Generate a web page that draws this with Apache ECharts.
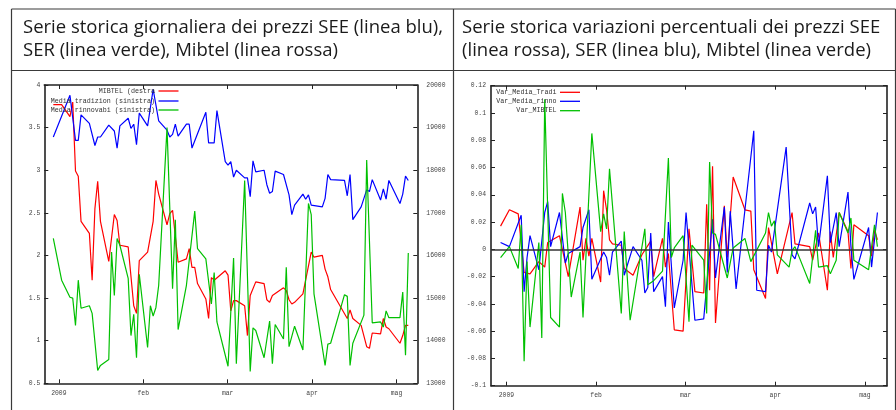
<!DOCTYPE html>
<html><head><meta charset="utf-8">
<script src="https://cdn.jsdelivr.net/npm/echarts@6/dist/echarts.min.js"></script>
<style>html,body{margin:0;padding:0;background:#fff;}#c{width:896px;height:410px;}</style>
</head><body><div id="c"></div>
<script>
// ---------- texts ----------
const titleLeft = ['Serie storica giornaliera dei prezzi SEE (linea blu),', 'SER (linea verde), Mibtel (linea rossa)'];
const titleRight = ['Serie storica variazioni percentuali dei prezzi SEE', '(linea rossa), SER (linea blu), Mibtel (linea verde)'];
const xTickLabels = ['2009', 'feb', 'mar', 'apr', 'mag'];
const leftNames = ['MIBTEL (destra', 'Media tradizion (sinistra)', 'Media rinnovabi (sinistra)'];
const rightNames = ['Var_Media_Tradi', 'Var_Media_rinno', 'Var_MIBTEL'];

// ---------- left chart data ----------
const mibtel = [['2008-12-30',19540],['2009-01-02',19540],['2009-01-05',19260],['2009-01-06',19600],['2009-01-07',17980],['2009-01-08',17860],['2009-01-09',16800],['2009-01-12',16520],['2009-01-13',15420],['2009-01-14',17100],['2009-01-15',17740],['2009-01-16',16800],['2009-01-19',15860],['2009-01-21',16960],['2009-01-22',16820],['2009-01-23',16240],['2009-01-26',16200],['2009-01-28',14820],['2009-01-29',14640],['2009-01-30',15880],['2009-02-02',16080],['2009-02-04',16800],['2009-02-05',17760],['2009-02-06',17440],['2009-02-09',16720],['2009-02-10',16980],['2009-02-11',17060],['2009-02-13',15840],['2009-02-16',15920],['2009-02-17',16160],['2009-02-18',15720],['2009-02-19',15720],['2009-02-20',15340],['2009-02-23',14980],['2009-02-24',14520],['2009-02-25',15480],['2009-02-26',15420],['2009-03-02',15640],['2009-03-03',15540],['2009-03-04',14700],['2009-03-05',14940],['2009-03-06',14940],['2009-03-09',14820],['2009-03-10',14120],['2009-03-11',15060],['2009-03-13',15380],['2009-03-16',15340],['2009-03-17',14960],['2009-03-18',14900],['2009-03-19',15060],['2009-03-23',15240],['2009-03-24',15180],['2009-03-25',14960],['2009-03-26',14860],['2009-03-27',14900],['2009-03-30',15100],['2009-04-02',16080],['2009-04-03',15960],['2009-04-06',16000],['2009-04-07',15680],['2009-04-08',15500],['2009-04-09',15200],['2009-04-15',14520],['2009-04-16',14720],['2009-04-17',14520],['2009-04-20',14360],['2009-04-22',13860],['2009-04-23',13820],['2009-04-24',14180],['2009-04-27',14160],['2009-04-28',14520],['2009-04-29',14320],['2009-04-30',14280],['2009-05-04',13940],['2009-05-05',14120],['2009-05-06',14360],['2009-05-07',14360]];

const mediaTradizion = [['2008-12-30',3.39],['2009-01-05',3.88],['2009-01-07',3.35],['2009-01-08',3.35],['2009-01-09',3.65],['2009-01-12',3.55],['2009-01-14',3.29],['2009-01-15',3.39],['2009-01-16',3.39],['2009-01-19',3.53],['2009-01-21',3.46],['2009-01-22',3.26],['2009-01-23',3.52],['2009-01-26',3.61],['2009-01-27',3.49],['2009-01-28',3.54],['2009-01-29',3.30],['2009-01-30',3.67],['2009-02-02',3.52],['2009-02-04',3.95],['2009-02-06',3.58],['2009-02-09',3.47],['2009-02-10',3.39],['2009-02-11',3.42],['2009-02-12',3.54],['2009-02-13',3.40],['2009-02-16',3.54],['2009-02-17',3.54],['2009-02-18',3.26],['2009-02-23',3.68],['2009-02-24',3.32],['2009-02-26',3.32],['2009-02-27',3.70],['2009-03-02',3.10],['2009-03-03',3.06],['2009-03-04',3.10],['2009-03-05',2.92],['2009-03-06',3.00],['2009-03-09',2.91],['2009-03-10',2.91],['2009-03-11',2.69],['2009-03-12',3.11],['2009-03-13',2.98],['2009-03-16',3.00],['2009-03-17',2.83],['2009-03-18',2.73],['2009-03-19',2.75],['2009-03-20',2.99],['2009-03-23',2.95],['2009-03-25',2.71],['2009-03-26',2.48],['2009-03-27',2.59],['2009-03-30',2.72],['2009-03-31',2.66],['2009-04-01',2.71],['2009-04-02',2.59],['2009-04-06',2.57],['2009-04-07',2.67],['2009-04-08',2.95],['2009-04-09',2.89],['2009-04-14',2.88],['2009-04-15',2.70],['2009-04-16',2.95],['2009-04-17',2.42],['2009-04-20',2.57],['2009-04-22',2.77],['2009-04-23',2.75],['2009-04-24',2.89],['2009-04-27',2.65],['2009-04-28',2.78],['2009-04-29',2.66],['2009-04-30',2.88],['2009-05-04',2.61],['2009-05-05',2.72],['2009-05-06',2.93],['2009-05-07',2.88]];

const mediaRinnovabi = [['2008-12-30',2.20],['2009-01-02',1.71],['2009-01-05',1.51],['2009-01-06',1.50],['2009-01-07',1.18],['2009-01-08',1.71],['2009-01-09',1.38],['2009-01-12',1.41],['2009-01-13',1.32],['2009-01-15',0.65],['2009-01-16',0.71],['2009-01-19',0.78],['2009-01-20',2.04],['2009-01-21',1.53],['2009-01-22',2.20],['2009-01-23',2.12],['2009-01-26',1.73],['2009-01-27',1.06],['2009-01-28',1.31],['2009-01-29',0.80],['2009-01-30',1.78],['2009-02-02',0.92],['2009-02-03',1.41],['2009-02-04',1.29],['2009-02-05',1.39],['2009-02-06',1.65],['2009-02-09',3.50],['2009-02-11',1.61],['2009-02-12',2.42],['2009-02-13',1.13],['2009-02-16',1.65],['2009-02-19',2.52],['2009-02-20',2.08],['2009-02-23',1.96],['2009-02-25',1.43],['2009-02-26',1.80],['2009-02-27',1.22],['2009-03-03',0.70],['2009-03-05',1.97],['2009-03-06',0.73],['2009-03-09',2.88],['2009-03-11',0.64],['2009-03-12',1.15],['2009-03-13',1.12],['2009-03-16',0.80],['2009-03-18',1.23],['2009-03-19',0.73],['2009-03-20',1.19],['2009-03-23',1.02],['2009-03-24',1.86],['2009-03-25',0.93],['2009-03-27',1.17],['2009-03-30',0.89],['2009-04-01',2.61],['2009-04-02',2.48],['2009-04-03',1.55],['2009-04-07',0.71],['2009-04-08',0.96],['2009-04-09',0.97],['2009-04-14',1.54],['2009-04-15',1.52],['2009-04-16',0.71],['2009-04-17',0.97],['2009-04-21',1.30],['2009-04-22',3.12],['2009-04-24',1.21],['2009-04-27',1.22],['2009-04-28',1.16],['2009-04-29',1.35],['2009-04-30',1.27],['2009-05-04',1.27],['2009-05-05',1.57],['2009-05-06',0.83],['2009-05-07',2.03]];

// ---------- right chart data ----------
const varMediaTradi = [['2008-12-30',0.017],['2009-01-02',0.029],['2009-01-05',0.026],['2009-01-07',-0.017],['2009-01-09',-0.018],['2009-01-12',-0.009],['2009-01-14',-0.013],['2009-01-15',0.005],['2009-01-19',0.010],['2009-01-22',-0.020],['2009-01-26',0.031],['2009-01-27',-0.008],['2009-01-28',0.008],['2009-01-29',-0.005],['2009-01-30',0.008],['2009-02-02',-0.024],['2009-02-03',0.043],['2009-02-04',0.029],['2009-02-05',0.007],['2009-02-06',0.004],['2009-02-09',0.003],['2009-02-10',-0.014],['2009-02-13',-0.019],['2009-02-16',-0.004],['2009-02-19',0.006],['2009-02-20',-0.020],['2009-02-23',0.008],['2009-02-24',-0.013],['2009-02-25',-0.003],['2009-02-27',-0.059],['2009-03-02',-0.060],['2009-03-04',0.015],['2009-03-06',-0.031],['2009-03-09',-0.032],['2009-03-10',0.033],['2009-03-11',-0.030],['2009-03-12',0.061],['2009-03-13',-0.054],['2009-03-16',0.032],['2009-03-17',-0.006],['2009-03-19',0.053],['2009-03-23',0.029],['2009-03-25',0.028],['2009-03-26',-0.015],['2009-03-30',-0.036],['2009-03-31',0.016],['2009-04-03',-0.018],['2009-04-08',0.027],['2009-04-09',0.004],['2009-04-14',0.002],['2009-04-15',-0.008],['2009-04-17',0.012],['2009-04-20',-0.030],['2009-04-21',0.013],['2009-04-22',-0.006],['2009-04-24',0.027],['2009-04-27',0.013],['2009-04-28',-0.014],['2009-04-29',0.018],['2009-05-04',0.010],['2009-05-05',-0.005],['2009-05-06',0.014],['2009-05-07',0.007]];

const varMediaRinno = [['2008-12-30',0.005],['2009-01-02',0.002],['2009-01-06',0.025],['2009-01-07',-0.031],['2009-01-08',-0.006],['2009-01-09',0.010],['2009-01-12',-0.015],['2009-01-14',0.027],['2009-01-15',0.035],['2009-01-16',0.002],['2009-01-19',0.027],['2009-01-21',-0.010],['2009-01-22',-0.003],['2009-01-26',0.002],['2009-01-27',0.016],['2009-01-29',0.029],['2009-01-30',-0.022],['2009-02-03',-0.002],['2009-02-04',-0.006],['2009-02-05',-0.019],['2009-02-06',-0.002],['2009-02-09',0.006],['2009-02-10',-0.019],['2009-02-13',0.002],['2009-02-16',-0.008],['2009-02-17',-0.032],['2009-02-18',-0.028],['2009-02-19',0.012],['2009-02-20',-0.031],['2009-02-23',-0.020],['2009-02-24',-0.042],['2009-02-25',0.020],['2009-02-27',-0.043],['2009-03-02',-0.008],['2009-03-03',0.027],['2009-03-06',-0.052],['2009-03-09',-0.051],['2009-03-12',0.022],['2009-03-13',-0.021],['2009-03-16',0.031],['2009-03-17',-0.017],['2009-03-18',0.028],['2009-03-20',-0.029],['2009-03-23',0.029],['2009-03-26',0.087],['2009-03-27',-0.030],['2009-03-30',-0.031],['2009-03-31',0.003],['2009-04-01',-0.002],['2009-04-06',0.075],['2009-04-08',-0.004],['2009-04-09',-0.007],['2009-04-14',0.034],['2009-04-15',0.026],['2009-04-16',0.031],['2009-04-17',0.002],['2009-04-20',0.054],['2009-04-21',0.005],['2009-04-23',0.027],['2009-04-24',0.002],['2009-04-27',0.042],['2009-04-28',0.002],['2009-04-29',-0.022],['2009-05-04',0.016],['2009-05-05',-0.013],['2009-05-07',0.027]];

const varMibtel = [['2008-12-30',-0.006],['2009-01-02',0.002],['2009-01-05',-0.014],['2009-01-06',0.018],['2009-01-07',-0.082],['2009-01-08',-0.009],['2009-01-09',-0.057],['2009-01-12',0.005],['2009-01-13',-0.065],['2009-01-14',0.110],['2009-01-16',-0.050],['2009-01-19',-0.057],['2009-01-20',0.041],['2009-01-21',0.027],['2009-01-23',-0.035],['2009-01-26',-0.002],['2009-01-27',-0.050],['2009-01-30',0.085],['2009-02-02',0.013],['2009-02-03',0.026],['2009-02-04',0.015],['2009-02-05',0.059],['2009-02-09',-0.047],['2009-02-10',0.013],['2009-02-12',-0.052],['2009-02-17',0.015],['2009-02-18',-0.026],['2009-02-20',-0.023],['2009-02-23',-0.016],['2009-02-25',0.067],['2009-02-26',-0.006],['2009-02-27',0.001],['2009-03-02',0.010],['2009-03-04',-0.053],['2009-03-05',0.003],['2009-03-09',-0.008],['2009-03-10',-0.047],['2009-03-11',0.064],['2009-03-12',0.012],['2009-03-13',0.011],['2009-03-17',-0.021],['2009-03-19',0.001],['2009-03-23',0.008],['2009-03-25',-0.009],['2009-03-30',0.012],['2009-03-31',0.027],['2009-04-01',0.017],['2009-04-02',0.021],['2009-04-03',-0.004],['2009-04-07',-0.013],['2009-04-08',-0.001],['2009-04-09',0.002],['2009-04-14',-0.025],['2009-04-16',0.014],['2009-04-17',-0.013],['2009-04-20',-0.012],['2009-04-21',-0.018],['2009-04-23',-0.008],['2009-04-24',0.027],['2009-04-27',0.012],['2009-04-28',0.023],['2009-04-29',-0.008],['2009-05-04',-0.015],['2009-05-06',0.018],['2009-05-07',0.002]];

// ---------- helpers ----------
const ORIGIN = Date.UTC(2009, 0, 1), DAY = 86400000, MONTH = 365.25 / 12;
function dayOf(s) { const p = s.split('-').map(Number); return (Date.UTC(p[0], p[1] - 1, p[2]) - ORIGIN) / DAY; }
function toXY(arr) { return arr.map(p => [dayOf(p[0]), p[1]]); }
const xTicks = xTickLabels.map((_, i) => i * MONTH);
const X_MIN = -5.25, X_MAX = 129.25;

const RED = '#ff0000', BLUE = '#0000ff', GREEN = '#00c000';
const FRAME = '#222';
const MONO = '"Liberation Mono", "DejaVu Sans Mono", monospace';
const TITLE_FONT = '"Open Sans", Lato, sans-serif';

function xAx(grid, pos, showLabel) {
  return {
    type: 'value', gridIndex: grid, position: pos, min: X_MIN, max: X_MAX,
    axisLine: { show: true, onZero: false, lineStyle: { color: FRAME, width: 1.6 } },
    axisTick: { show: true, inside: true, length: 4, customValues: xTicks, lineStyle: { color: FRAME, width: 1 } },
    axisLabel: { show: showLabel, customValues: xTicks, margin: 7, fontFamily: MONO, fontSize: 6.4, color: '#444',
      formatter: v => xTickLabels[Math.round(v / MONTH)] },
    splitLine: { show: false }
  };
}
function yAx(grid, pos, min, max, interval, showLabel, margin) {
  return {
    type: 'value', gridIndex: grid, position: pos, min: min, max: max, interval: interval,
    axisLine: { show: true, onZero: false, lineStyle: { color: FRAME, width: 1.6 } },
    axisTick: { show: true, inside: true, length: 4, lineStyle: { color: FRAME, width: 1 } },
    axisLabel: { show: showLabel, margin: margin, fontFamily: MONO, fontSize: 6.4, color: '#444',
      formatter: v => String(Math.round(v * 1000) / 1000) },
    splitLine: { show: false }
  };
}
function lineSeries(data, xi, yi, color, extra) {
  return Object.assign({
    type: 'line', xAxisIndex: xi, yAxisIndex: yi, data: toXY(data), symbol: 'none', showSymbol: false,
    lineStyle: { color: color, width: 1.2 }, itemStyle: { color: color }, silent: true, animation: false
  }, extra || {});
}

// ---------- graphics (table, titles, keys) ----------
const G = [];
const TABLE = '#3a3a3a';
function hline(x1, x2, y) { G.push({ type: 'line', silent: true, shape: { x1: x1, y1: y, x2: x2, y2: y }, style: { stroke: TABLE, lineWidth: 1.2 } }); }
function vline(x, y1, y2) { G.push({ type: 'line', silent: true, shape: { x1: x, y1: y1, x2: x, y2: y2 }, style: { stroke: TABLE, lineWidth: 1.2 } }); }
hline(11.5, 895.5, 9); hline(11.5, 895.5, 70.5);
vline(11.5, 9, 410); vline(453.5, 9, 410); vline(895.5, 9, 410);

function titleText(lines, x) {
  lines.forEach((t, i) => G.push({ type: 'text', silent: true, x: x, y: 27.5 + i * 23.5,
    style: { text: t, font: '18.5px ' + TITLE_FONT, fill: '#1a1a1a', verticalAlign: 'middle', align: 'left' } }));
}
titleText(titleLeft, 23);
titleText(titleRight, 462);

function key(names, colors, xRight, ys) {
  names.forEach((n, i) => {
    G.push({ type: 'text', silent: true, z: 100, x: xRight, y: ys[i],
      style: { text: n, font: '6.7px ' + MONO, fill: '#333', align: 'right', verticalAlign: 'middle' } });
    G.push({ type: 'line', silent: true, z: 100, shape: { x1: xRight + 3.5, y1: ys[i], x2: xRight + 23.5, y2: ys[i] },
      style: { stroke: colors[i], lineWidth: 1.3 } });
  });
}
key(leftNames, [RED, BLUE, GREEN], 155, [91, 101, 110]);
key(rightNames, [RED, BLUE, GREEN], 556.5, [92.3, 101.3, 110.7]);

// ---------- option ----------
const option = {
  backgroundColor: '#fff',
  animation: false,
  grid: [
    { left: 44.3, top: 85, width: 373, height: 298.3, show: false },
    { left: 491, top: 85.7, width: 396, height: 300, show: false }
  ],
  xAxis: [xAx(0, 'bottom', true), xAx(0, 'top', false), xAx(1, 'bottom', true), xAx(1, 'top', false)],
  yAxis: [
    yAx(0, 'left', 0.5, 4, 0.5, true, 4),
    yAx(0, 'right', 13000, 20000, 1000, true, 9),
    yAx(1, 'left', -0.1, 0.12, 0.02, true, 5),
    yAx(1, 'right', -0.1, 0.12, 0.02, false, 5)
  ],
  series: [
    lineSeries(mibtel, 0, 1, RED),
    lineSeries(mediaTradizion, 0, 0, BLUE),
    lineSeries(mediaRinnovabi, 0, 0, GREEN),
    lineSeries(varMediaTradi, 2, 2, RED, {
      markLine: { silent: true, symbol: 'none', label: { show: false }, animation: false,
        lineStyle: { color: '#333', width: 1.6, type: 'solid' }, data: [{ yAxis: 0 }] }
    }),
    lineSeries(varMediaRinno, 2, 2, BLUE),
    lineSeries(varMibtel, 2, 2, GREEN)
  ],
  graphic: { elements: G }
};

const chart = echarts.init(document.getElementById('c'), null, { renderer: 'canvas' });
chart.setOption(option);
</script>
</body></html>
